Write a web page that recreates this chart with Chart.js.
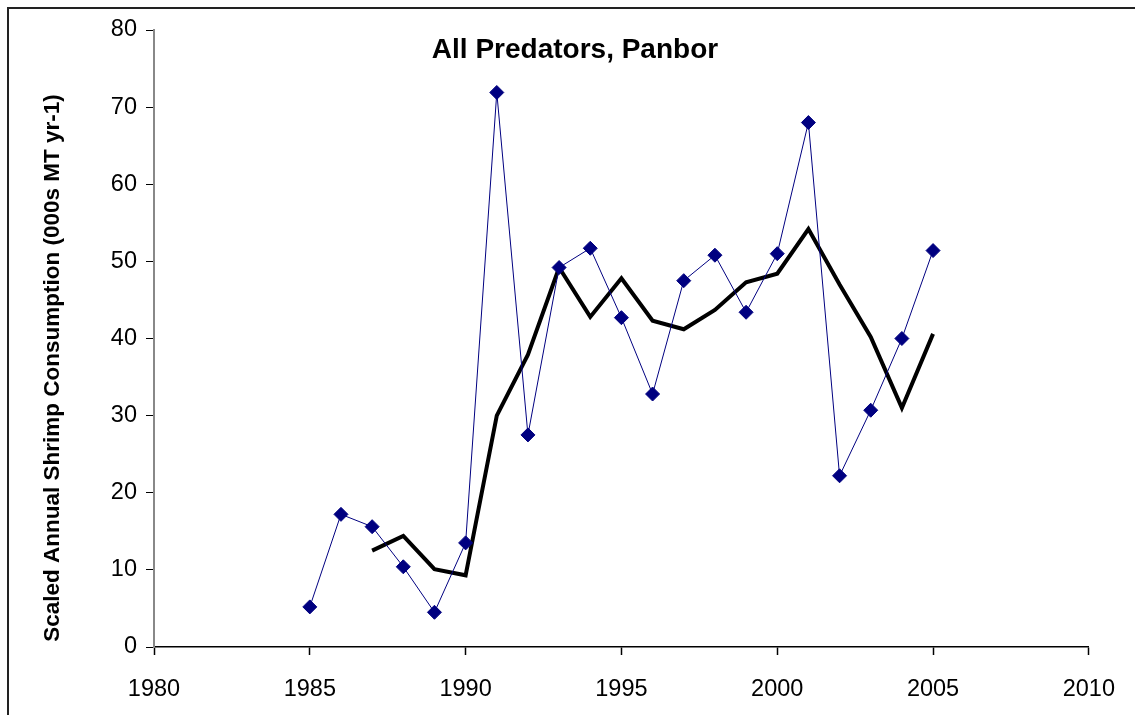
<!DOCTYPE html>
<html>
<head>
<meta charset="utf-8">
<title>All Predators, Panbor</title>
<script src="https://cdn.jsdelivr.net/npm/chart.js@4.4.1/dist/chart.umd.min.js"></script>
<style>
  html, body { margin: 0; padding: 0; background: #fff; }
  canvas { display: block; }
</style>
</head>
<body>
<canvas id="shrimpChart" width="1135" height="715"></canvas>
<script>
const years = [1985, 1986, 1987, 1988, 1989, 1990, 1991, 1992, 1993, 1994, 1995,
               1996, 1997, 1998, 1999, 2000, 2001, 2002, 2003, 2004, 2005];
const consumption = [5.2, 17.2, 15.6, 10.4, 4.5, 13.5, 71.9, 27.5, 49.2, 51.7, 42.7,
                     32.8, 47.5, 50.8, 43.4, 51.0, 68.0, 22.2, 30.7, 40.0, 51.4];
const runningMean = [null, null, 12.5, 14.4, 10.1, 9.3, 30.0, 37.9, 49.2, 42.8, 47.8,
                     42.3, 41.2, 43.7, 47.3, 48.4, 54.2, 47.0, 40.2, 31.0, 40.6];
const xTicks = [1980, 1985, 1990, 1995, 2000, 2005, 2010];
const yTicks = [0, 10, 20, 30, 40, 50, 60, 70, 80];

const FONT = "'Liberation Sans', Arial, sans-serif";

// title, y axis title and the frame are drawn by hand
const decorations = {
    id: "decorations",
    afterDraw(chart) {
        const ctx = chart.ctx;
        ctx.save();
        ctx.strokeStyle = "#222";
        ctx.lineWidth = 2;
        ctx.beginPath();
        ctx.moveTo(8, 715);
        ctx.lineTo(8, 8);
        ctx.lineTo(1135, 8);
        ctx.stroke();

        ctx.fillStyle = "#000";
        ctx.textAlign = "center";
        ctx.textBaseline = "middle";
        ctx.font = "bold 28px " + FONT;
        ctx.fillText("All Predators, Panbor", 575, 50);

        ctx.translate(53, 368);
        ctx.rotate(-Math.PI / 2);
        ctx.font = "bold 22.5px " + FONT;
        ctx.fillText("Scaled Annual Shrimp Consumption (000s MT yr-1)", 0, 0);
        ctx.restore();
    }
};

new Chart(document.getElementById("shrimpChart"), {
    type: "line",
    data: {
        datasets: [
            {
                data: years.map((y, i) => ({ x: y, y: consumption[i] })),
                borderColor: "#000080",
                borderWidth: 1,
                backgroundColor: "#000080",
                pointStyle: "rectRot",
                pointRadius: 7,
                pointBorderWidth: 1,
                tension: 0
            },
            {
                data: years.map((y, i) => ({ x: y, y: runningMean[i] })),
                borderColor: "#000",
                borderWidth: 4,
                pointRadius: 0,
                tension: 0
            }
        ]
    },
    options: {
        responsive: false,
        animation: false,
        layout: { padding: { top: 30, right: 44, left: 0, bottom: 0 } },
        plugins: {
            legend: { display: false },
            tooltip: { enabled: false }
        },
        scales: {
            x: {
                type: "linear",
                min: xTicks[0],
                max: xTicks[xTicks.length - 1],
                afterBuildTicks: s => { s.ticks = xTicks.map(v => ({ value: v })); },
                afterFit: s => { s.height = 68; },
                ticks: {
                    color: "#000",
                    padding: 20,
                    font: { family: FONT, size: 23.5 },
                    callback: v => String(v)
                },
                grid: { drawOnChartArea: false, tickLength: 8, tickColor: "#000", tickWidth: 1.5 },
                border: { color: "#000", width: 1.5 }
            },
            y: {
                min: yTicks[0],
                max: yTicks[yTicks.length - 1],
                afterBuildTicks: s => { s.ticks = yTicks.map(v => ({ value: v })); },
                afterFit: s => { s.width = 154; },
                ticks: {
                    color: "#000",
                    padding: 9,
                    font: { family: FONT, size: 23.5 },
                    callback: v => String(v)
                },
                grid: { drawOnChartArea: false, tickLength: 8, tickColor: "#000", tickWidth: 1 },
                border: { color: "#888", width: 2 }
            }
        }
    },
    plugins: [decorations]
});
</script>
</body>
</html>
